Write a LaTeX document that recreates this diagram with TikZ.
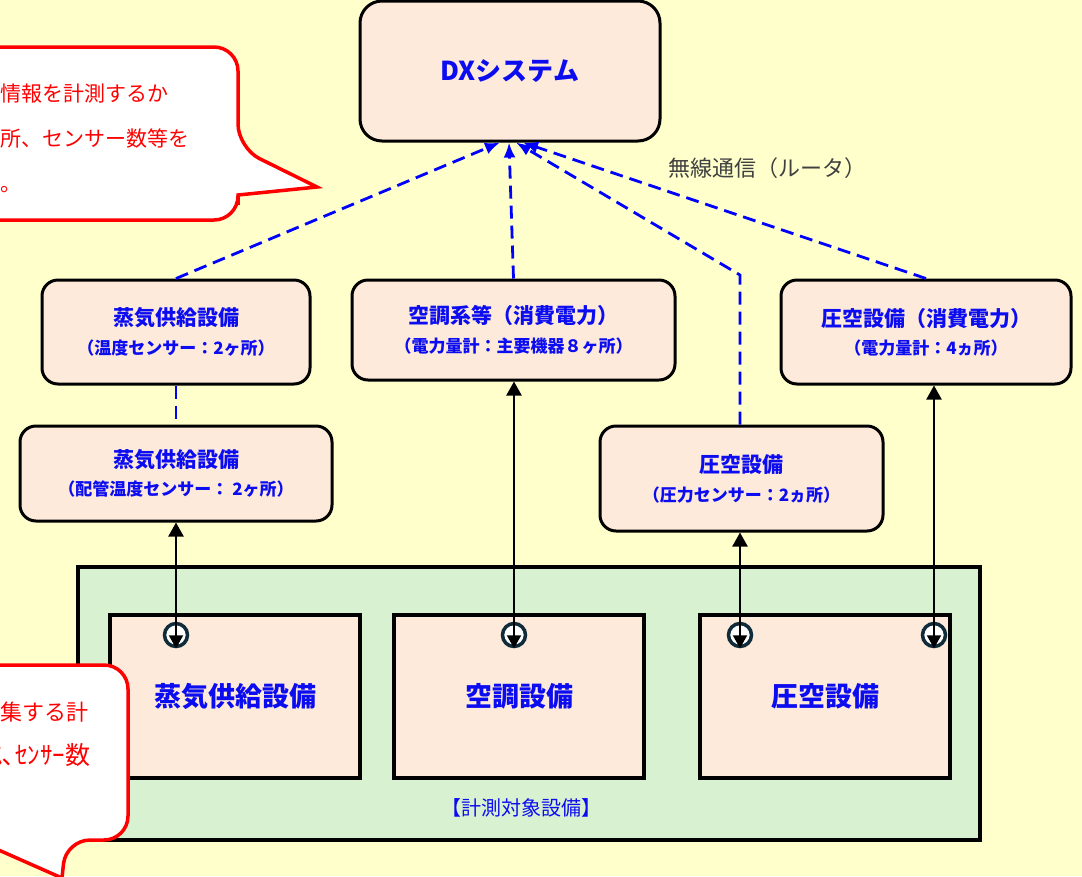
\documentclass[tikz,border=0pt]{standalone}
\usepackage{fontspec}
\newfontfamily\jpfont{Noto Sans CJK JP}
\usetikzlibrary{arrows.meta,positioning}

\definecolor{bgyellow}{RGB}{255,255,204}
\definecolor{boxfill}{RGB}{253,234,218}
\definecolor{areagreen}{RGB}{216,241,208}
\definecolor{txtblue}{RGB}{12,12,240}
\definecolor{sensorline}{RGB}{16,44,58}
\definecolor{labelgray}{RGB}{64,64,64}

\newcommand{\boxhead}[1]{{\fontsize{21}{25}\selectfont #1}}

\tikzset{
  unit/.style={draw,line width=3pt,fill=boxfill,rounded corners=16pt,align=center,
    text=txtblue,inner sep=0pt,font=\jpfont\bfseries\fontsize{17}{20}\selectfont},
  equip/.style={draw,line width=3.5pt,fill=boxfill,minimum width=250pt,minimum height=163pt,
    text=txtblue,font=\jpfont\bfseries\fontsize{27}{31}\selectfont},
  sensor/.style={circle,draw=sensorline,line width=3.5pt,fill=white,minimum size=23pt,inner sep=0pt},
  wire/.style={line width=2.2pt,{Triangle[length=14pt,width=15pt]}-{Triangle[length=13pt,width=14pt]}},
  radio/.style={draw=blue,line width=2.8pt,dash pattern=on 13pt off 7pt,-{Latex[length=15pt,width=12pt]}},
  callout/.style={draw=red,line width=3.5pt,fill=white},
  note/.style={anchor=west,align=left,text=red,inner sep=0pt}
}

\begin{document}
\begin{tikzpicture}[x=1pt,y=-1pt,font=\jpfont]
  \useasboundingbox (0,0) rectangle (1082,876);
  \clip (0,0) rectangle (1082,876);
  \fill[bgyellow] (0,0) rectangle (1082,876);

  % measured equipment area
  \node[draw,line width=4pt,fill=areagreen,minimum width=902pt,minimum height=273pt] (area) at (529,703.5) {};
  \node[equip] (stEq) at (235,696.5) {蒸気供給設備};
  \node[equip,right=30.5pt of stEq] (acEq) {空調設備};
  \node[equip,right=52.5pt of acEq] (caEq) {圧空設備};
  \node[text=txtblue,font=\jpfont\fontsize{20}{24}\selectfont] (areaLbl) at (521,808) {【計測対象設備】};

  % units
  \node[unit,minimum width=300pt,minimum height=140pt,rounded corners=22pt,
    font=\jpfont\bfseries\fontsize{26}{30}\selectfont] (dx) at (510,71) {DXシステム};
  \node[unit,minimum width=268pt,minimum height=104pt] (stUp) at (176,332)
    {\boxhead{蒸気供給設備}\\[9pt]（温度センサー：2ヶ所）};
  \node[unit,minimum width=312pt,minimum height=95pt,below=39pt of stUp] (stLo)
    {\boxhead{蒸気供給設備}\\[8pt]（配管温度センサー： 2ヶ所）};
  \node[unit,minimum width=323pt,minimum height=100pt] (acUp) at (513.5,330)
    {\boxhead{空調系等（消費電力）}\\[9pt]（電力量計：主要機器８ヶ所）};
  \node[unit,minimum width=283pt,minimum height=105pt] (caMid) at (741.5,478.5)
    {\boxhead{圧空設備}\\[9pt]（圧力センサー：2ヵ所）};
  \node[unit,minimum width=290pt,minimum height=104pt] (caUp) at (926,332)
    {\boxhead{圧空設備（消費電力）}\\[8pt]（電力量計：4ヵ所）};

  % sensors
  \node[sensor] (sA) at (176,635) {};
  \node[sensor] (sB) at (514,635) {};
  \node[sensor] (sC) at (740,635) {};
  \node[sensor] (sD) at (934,635) {};

  \draw[wire] (sA |- stLo.south) -- (sA.south);
  \draw[wire] (sB |- acUp.south) -- (sB.south);
  \draw[wire] (sC |- caMid.south) -- (sC.south);
  \draw[wire] (sD |- caUp.south) -- (sD.south);

  % wireless
  \coordinate (bend) at (740,275);
  \draw[radio] (stUp.north) -- ([xshift=-10pt]dx.south);
  \draw[radio] (acUp.north) -- ([xshift=-1pt]dx.south);
  \draw[radio] (caMid.north -| bend) -- (bend) -- ([xshift=6pt]dx.south);
  \draw[radio] (caUp.north) -- ([xshift=13pt]dx.south);
  \draw[radio,-] (stUp.south) -- (stLo.north);
  \node[text=labelgray,font=\jpfont\fontsize{22}{26}\selectfont] (radioLbl) at (767,168) {無線通信（ルータ）};

  % callouts
  \draw[callout] (238,205) [rounded corners=24pt] -- (238,220) -- (-100,220) -- (-100,47)
    -- (238,47) -- (238,148) [sharp corners] -- (317,187) -- (238,195) -- cycle;
  \node[note,font=\jpfont\fontsize{21}{45}\selectfont] (noteTop) at (-62.5,138)
    {どんな情報を計測するか\\計測箇所、センサー数等を\\記した。};
  \draw[callout] (128,750) [rounded corners=24pt] -- (128,840) -- (66,840) [sharp corners]
    -- (62,878) -- (-24,840) -- (-100,840) [rounded corners=24pt] -- (-100,665) -- (128,665) -- cycle;
  \node[note,font=\jpfont\fontsize{22}{44}\selectfont] (noteBot) at (-110,734)
    {データを収集する計\\{\fontsize{25}{44}\selectfont 器､ﾃﾞﾊﾞｲｽ､ｾﾝｻｰ数}};
\end{tikzpicture}
\end{document}
